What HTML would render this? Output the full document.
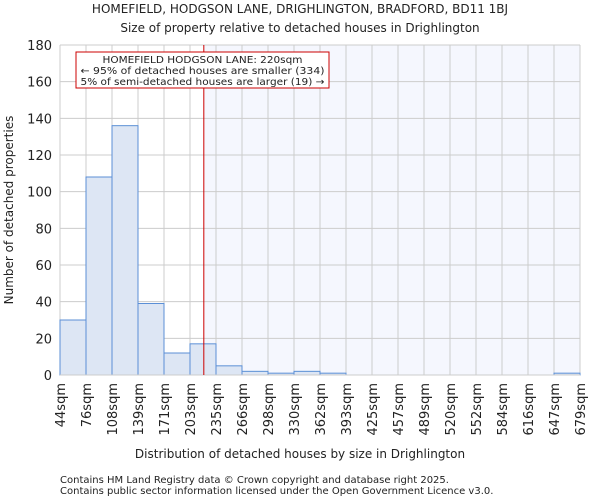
<!DOCTYPE html>
<html><head><meta charset="utf-8"><style>
body{margin:0;background:#fff;font-family:"DejaVu Sans","Liberation Sans",sans-serif}
svg text{font-family:"DejaVu Sans","Liberation Sans",sans-serif;fill:#222}
</style></head><body>
<svg id="c" width="600" height="500" xmlns="http://www.w3.org/2000/svg">
<text x="300" y="13" text-anchor="middle" font-size="12">HOMEFIELD, HODGSON LANE, DRIGHLINGTON, BRADFORD, BD11 1BJ</text>
<text x="300" y="32" text-anchor="middle" font-size="12">Size of property relative to detached houses in Drighlington</text>
<g id="plot"></g>
<text x="300" y="458" text-anchor="middle" font-size="12">Distribution of detached houses by size in Drighlington</text>
<text transform="translate(13,210) rotate(-90)" text-anchor="middle" font-size="12">Number of detached properties</text>
<text x="60" y="483" font-size="10">Contains HM Land Registry data © Crown copyright and database right 2025.</text>
<text x="60" y="494" font-size="10">Contains public sector information licensed under the Open Government Licence v3.0.</text>
</svg>
<script>
const binLabels=["44sqm","76sqm","108sqm","139sqm","171sqm","203sqm","235sqm","266sqm","298sqm","330sqm","362sqm","393sqm","425sqm","457sqm","489sqm","520sqm","552sqm","584sqm","616sqm","647sqm","679sqm"];
const binEdges=[44,76,108,139,171,203,235,266,298,330,362,393,425,457,489,520,552,584,616,647,679];
const counts=[30,108,136,39,12,17,5,2,1,2,1,0,0,0,0,0,0,0,0,1];
const yTicks=[0,20,40,60,80,100,120,140,160,180];
const propertySize=220;
const NS="http://www.w3.org/2000/svg";
const L=60,R=580,T=45,B=375,yMax=180;
const nb=counts.length,bw=(R-L)/nb;
const xi=i=>L+i*bw;
const y=v=>B-(v/yMax)*(B-T);
function xv(v){for(let i=0;i<binEdges.length-1;i++){if(v<=binEdges[i+1])return xi(i)+(v-binEdges[i])/(binEdges[i+1]-binEdges[i])*bw;}return R;}
const g=document.getElementById('plot');
function mk(t,a){const e=document.createElementNS(NS,t);for(const k in a)e.setAttribute(k,a[k]);g.appendChild(e);return e;}
const rx=xv(propertySize);
let e=mk('rect',{x:rx,y:T,width:R-rx,height:B-T,fill:'#f5f7fe'});


yTicks.forEach(t=>{let l=mk('line',{x1:L,x2:R,y1:y(t),y2:y(t),stroke:'#cccccc','stroke-width':1});


let tx=mk('text',{x:L-8,y:y(t)+5,'text-anchor':'end','font-size':13});tx.textContent=t;

});
binLabels.forEach((lb,i)=>{let l=mk('line',{x1:xi(i),x2:xi(i),y1:T,y2:B,stroke:'#cccccc','stroke-width':1});


let tx=mk('text',{'text-anchor':'end','font-size':13,transform:`translate(${xi(i)+5},${B+8}) rotate(-90)`});tx.textContent=lb;

});
counts.forEach((c,i)=>{if(c<=0)return;let r=mk('rect',{x:xi(i),y:y(c),width:bw,height:B-y(c),fill:'#dde6f4',stroke:'#5b8fd6','stroke-width':1});

});
let ax=mk('line',{x1:L,x2:R,y1:B,y2:B,stroke:'#cccccc'});


let rl=mk('line',{x1:rx,x2:rx,y1:T,y2:B,stroke:'#cc0000','stroke-width':1});


let bx=mk('rect',{x:76,y:52,width:253,height:36,fill:'#fff',stroke:'#cc0000','stroke-width':1});


["HOMEFIELD HODGSON LANE: 220sqm","← 95% of detached houses are smaller (334)","5% of semi-detached houses are larger (19) →"].forEach((s,k)=>{let t=mk('text',{x:202.5,y:63+k*11,'text-anchor':'middle','font-size':10,textLength:k==0?'200':'244',lengthAdjust:'spacingAndGlyphs'});t.textContent=s;

});
</script>
</body></html>
